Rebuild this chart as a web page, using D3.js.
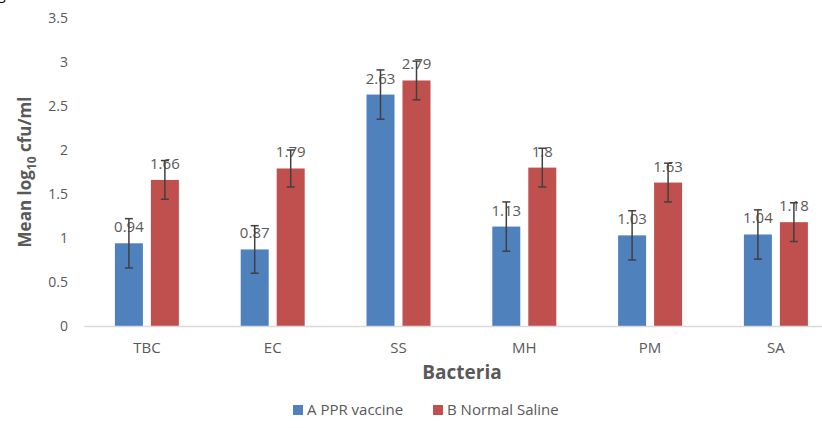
<!DOCTYPE html>
<html>
<head>
<meta charset="utf-8">
<script src="https://cdn.jsdelivr.net/npm/d3@7"></script>
<style>
  body { margin: 0; background: #fff; }
  svg { display: block; font-family: "Open Sans", sans-serif; }
</style>
</head>
<body>
<script>
/* chart data */
var bacteria = ["TBC", "EC", "SS", "MH", "PM", "SA"];
var seriesNames = ["A PPR vaccine", "B Normal Saline"];
var vaccineMeans = [0.94, 0.87, 2.63, 1.13, 1.03, 1.04];
var salineMeans = [1.66, 1.79, 2.79, 1.8, 1.63, 1.18];
var vaccineErr = [0.28, 0.27, 0.28, 0.28, 0.28, 0.28];
var salineErr = [0.22, 0.21, 0.22, 0.22, 0.22, 0.22];
var yTicks = [0, 0.5, 1, 1.5, 2, 2.5, 3, 3.5];

var colors = ["#4f81bd", "#c0504d"];
var textColor = "#595959";

var chartWidth = 822, chartHeight = 428;
var plotLeft = 84, plotBottom = 326, plotTop = 18;

var svg = d3.select("body").append("svg")
    .attr("width", chartWidth)
    .attr("height", chartHeight);

// one row per bar
var rows = [];
bacteria.forEach(function(b, i) {
    rows.push({cat: b, s: 0, v: vaccineMeans[i], e: vaccineErr[i]});
    rows.push({cat: b, s: 1, v: salineMeans[i], e: salineErr[i]});
});

var x0 = d3.scaleBand()
    .domain(bacteria)
    .range([plotLeft, plotLeft + 6 * 125.8]);

var x1 = d3.scaleBand()
    .domain([0, 1])
    .range([x0.bandwidth() / 2 - 32, x0.bandwidth() / 2 + 32])
    .paddingInner(0.222);

var y = d3.scaleLinear()
    .domain([0, 3.5])
    .range([plotBottom, plotTop]);

function cx(d) { return x0(d.cat) + x1(d.s) + x1.bandwidth() / 2; }

// y axis labels
var yAxis = d3.axisLeft(y)
    .tickValues(yTicks)
    .tickSize(0)
    .tickPadding(16)
    .tickFormat(d3.format("~g"));

var gy = svg.append("g")
    .attr("transform", "translate(" + plotLeft + ",0)")
    .call(yAxis);
gy.select(".domain").remove();
gy.selectAll("text")
    .attr("fill", textColor)
    .style("font-size", "14px")
    .style("font-family", "Open Sans");

// bars
svg.selectAll("rect.bar")
    .data(rows)
    .enter()
    .append("rect")
    .attr("class", "bar")
    .attr("x", function(d) { return x0(d.cat) + x1(d.s); })
    .attr("y", function(d) { return y(d.v); })
    .attr("width", x1.bandwidth())
    .attr("height", function(d) { return plotBottom - y(d.v); })
    .attr("fill", function(d) { return colors[d.s]; });

// x axis line + category labels
var xAxis = d3.axisBottom(x0).tickSize(0).tickPadding(16);
var gx = svg.append("g")
    .attr("transform", "translate(0," + plotBottom + ")")
    .call(xAxis);
gx.select(".domain")
    .attr("d", "M" + plotLeft + ",0.5H" + chartWidth)
    .attr("stroke", "#d9d9d9")
    .attr("stroke-width", 1.3);
gx.selectAll("text")
    .attr("fill", textColor)
    .style("font-size", "15px")
    .style("font-family", "Open Sans");

// data labels (drawn before error bars, like the original)
svg.selectAll("text.val")
    .data(rows)
    .enter()
    .append("text")
    .attr("class", "val")
    .attr("x", cx)
    .attr("y", function(d) { return y(d.v) - 11; })
    .attr("text-anchor", "middle")
    .attr("fill", textColor)
    .style("font-size", "15px")
    .text(function(d) { return d.v; });

// error bars
var eb = svg.selectAll("g.err")
    .data(rows)
    .enter()
    .append("g")
    .attr("class", "err")
    .attr("stroke", "#404040")
    .attr("stroke-width", 1.5);

eb.append("line")
    .attr("x1", cx).attr("x2", cx)
    .attr("y1", function(d) { return y(d.v + d.e); })
    .attr("y2", function(d) { return y(d.v - d.e); });
eb.append("line")
    .attr("x1", function(d) { return cx(d) - 4; })
    .attr("x2", function(d) { return cx(d) + 4; })
    .attr("y1", function(d) { return y(d.v + d.e); })
    .attr("y2", function(d) { return y(d.v + d.e); });
eb.append("line")
    .attr("x1", function(d) { return cx(d) - 4; })
    .attr("x2", function(d) { return cx(d) + 4; })
    .attr("y1", function(d) { return y(d.v - d.e); })
    .attr("y2", function(d) { return y(d.v - d.e); });

// axis titles
svg.append("text")
    .attr("x", 462)
    .attr("y", 379)
    .attr("text-anchor", "middle")
    .attr("fill", textColor)
    .style("font-size", "19px")
    .style("font-weight", "bold")
    .text("Bacteria");

var yt = svg.append("text")
    .attr("transform", "translate(31,172) rotate(-90)")
    .attr("text-anchor", "middle")
    .attr("fill", textColor)
    .style("font-size", "17px")
    .style("font-weight", "bold");
yt.append("tspan").text("Mean log");
yt.append("tspan").attr("dy", 5).style("font-size", "12px").text("10");
yt.append("tspan").attr("dy", -5).text(" cfu/ml");

// legend
var legend = svg.selectAll("g.legend")
    .data(seriesNames)
    .enter()
    .append("g")
    .attr("class", "legend")
    .attr("transform", function(d, i) { return "translate(" + (293 + i * 140) + ",405)"; });
legend.append("rect")
    .attr("width", 10)
    .attr("height", 10)
    .attr("fill", function(d, i) { return colors[i]; });
legend.append("text")
    .attr("x", 14)
    .attr("y", 10)
    .attr("fill", textColor)
    .style("font-size", "15px")
    .text(function(d) { return d; });

// cropped caption letter in the corner
svg.append("text")
    .attr("x", -2)
    .attr("y", -1)
    .attr("fill", "#000")
    .style("font-size", "14px")
    .text("g");
</script>
</body>
</html>
